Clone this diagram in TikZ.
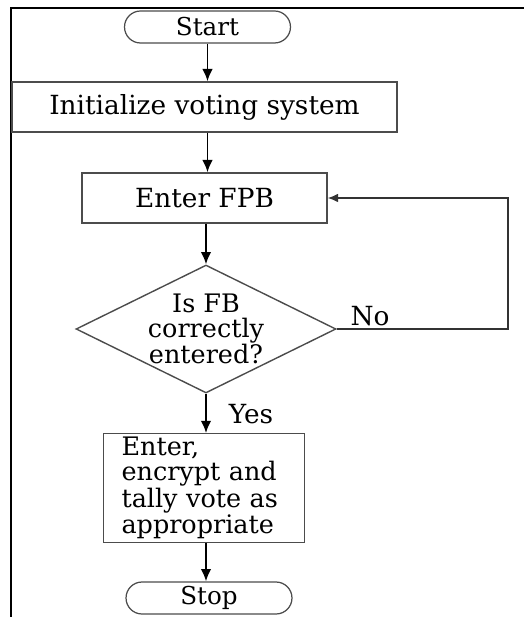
\documentclass[tikz,border=0pt]{standalone}
\usepackage{fontspec}
\setmainfont{DejaVu Serif}
\usetikzlibrary{shapes.geometric,shapes.misc,arrows.meta}

\begin{document}
\begin{tikzpicture}[x=0.02cm,y=-0.02cm,
            every node/.style={font=\fontsize{15pt}{12.8pt}\selectfont},
            termbox/.style={rounded rectangle, draw=black!70, line width=0.7pt,
                minimum width=3.32cm, minimum height=0.64cm, inner sep=0pt,
                font=\fontsize{14pt}{12pt}\selectfont},
            procbox/.style={rectangle, draw=black!70, line width=0.8pt,
                minimum height=1cm},
            testbox/.style={diamond, draw=black!70, line width=0.8pt, aspect=2,
                minimum width=5.2cm, minimum height=2.56cm, inner sep=-6pt, align=center,
                font=\fontsize{14.5pt}{14pt}\selectfont},
            flow/.style={-{Latex[length=7pt,width=6pt]}, line width=1.1pt},
            back/.style={-{Latex[length=6pt,width=5pt]}, line width=0.8pt, black!80}]
            \useasboundingbox (0,0) rectangle (524,617);
            % frame
            \draw[line width=1.1pt] (11,617) -- (11,8) -- (524,8);

            \node[termbox] (start) at (207.5,27) {Start};
            \node[procbox, minimum width=7.7cm] (init) at (204.5,107) {Initialize voting system};
            \node[procbox, minimum width=4.9cm] (fpb) at (204.5,198) {Enter FPB};
            \node[testbox] (check) at (206,329) {Is FB\\correctly\\entered?};
            \node[procbox, minimum width=4.02cm, minimum height=2.04cm, inner ysep=2pt,
                text width=3.3cm, align=left, font=\fontsize{14.5pt}{12pt}\selectfont]
                (vote) at (204,488) {Enter,\\encrypt and\\tally vote as\\appropriate};
            \node[termbox] (stop) at (209,598) {Stop};
            \coordinate (turn) at (508,329);

            \draw[flow] (start.south) -- (start.south |- init.north);
            \draw[flow] (start.south |- init.south) -- (start.south |- fpb.north);
            \draw[flow] (check.north |- fpb.south) -- (check.north);
            \draw[flow] (check.south) -- (check.south |- vote.north);
            \draw[flow] (check.south |- vote.south) -- (check.south |- stop.north);
            \draw[back] (check.east) -- (turn) |- (fpb.east);

            \node (no) at (370,316) {No};
            \node (yes) at (251,414) {Yes};
        \end{tikzpicture}
\end{document}
